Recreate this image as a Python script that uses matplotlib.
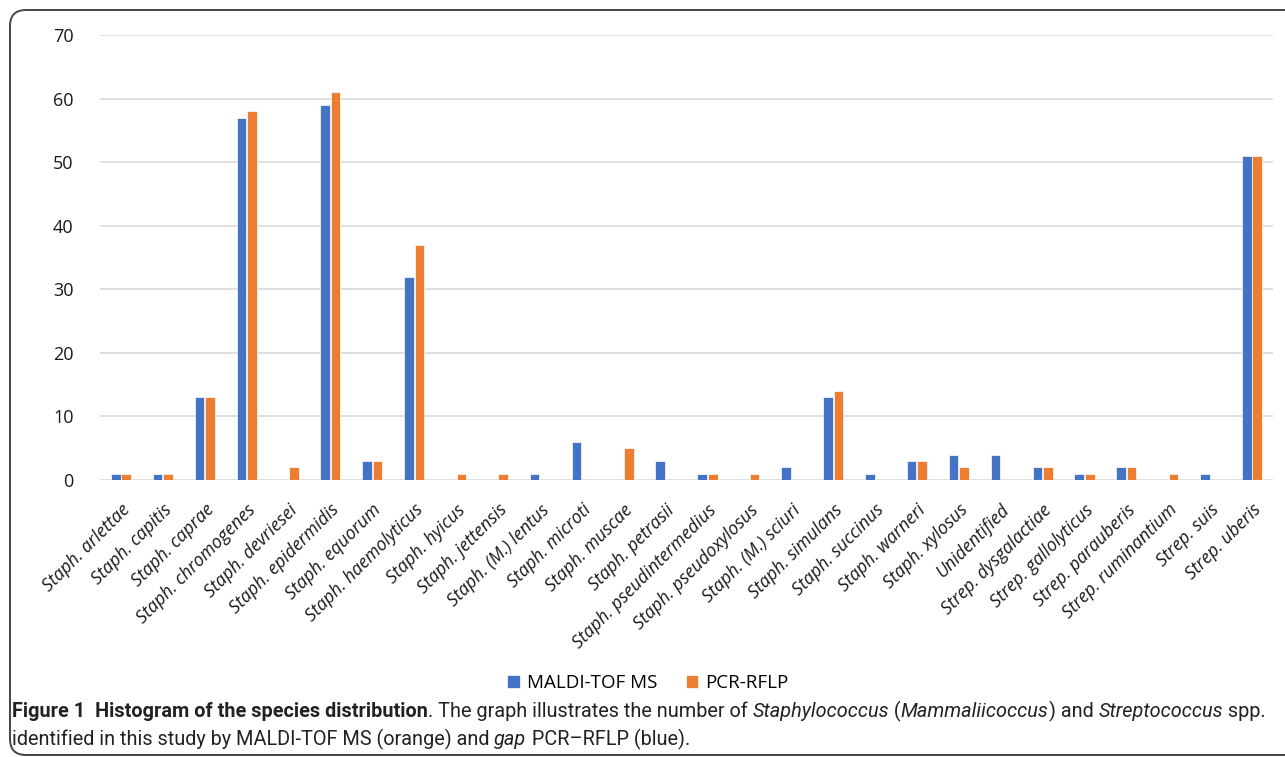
import numpy as np
import matplotlib
matplotlib.use("Agg")
import matplotlib.pyplot as plt
from matplotlib.patches import FancyBboxPatch
from matplotlib.transforms import IdentityTransform

# species on the x axis
species = ["Staph. arlettae", "Staph. capitis", "Staph. caprae", "Staph. chromogenes",
           "Staph. devriesei", "Staph. epidermidis", "Staph. equorum", "Staph. haemolyticus",
           "Staph. hyicus", "Staph. jettensis", "Staph. (M.) lentus", "Staph. microti",
           "Staph. muscae", "Staph. petrasii", "Staph. pseudintermedius", "Staph. pseudoxylosus",
           "Staph. (M.) sciuri", "Staph. simulans", "Staph. succinus", "Staph. warneri",
           "Staph. xylosus", "Unidentified", "Strep. dysgalactiae", "Strep. gallolyticus",
           "Strep. parauberis", "Strep. ruminantium", "Strep. suis", "Strep. uberis"]

maldi = [1, 1, 13, 57, 0, 59, 3, 32, 0, 0, 1, 6, 0, 3, 1, 0, 2, 13, 1, 3, 4, 4, 2, 1, 2, 0, 1, 51]
pcr = [1, 1, 13, 58, 2, 61, 3, 37, 1, 1, 0, 0, 5, 0, 1, 1, 0, 14, 0, 3, 2, 0, 2, 1, 2, 1, 0, 51]

yticks = [0, 10, 20, 30, 40, 50, 60, 70]

W, H = 1285, 757
fig = plt.figure(figsize=(W / 100, H / 100), dpi=100)
ax = fig.add_axes([100 / W, 1 - 480 / H, 1173 / W, 445 / H])

x = np.arange(len(species))
bw = 0.23
ax.bar(x - 0.125, maldi, bw, color="#4472C4", edgecolor="white", linewidth=0.5, label="MALDI-TOF MS", zorder=3)
ax.bar(x + 0.125, pcr, bw, color="#ED7D31", edgecolor="white", linewidth=0.5, label="PCR-RFLP", zorder=3)

ax.set_xlim(-0.5, len(species) - 0.5)
ax.set_ylim(0, 70)
ax.set_yticks(yticks)
ax.set_yticklabels([str(v) for v in yticks], fontsize=13, family="Open Sans", color="#1a1a1a")
ax.yaxis.grid(True, color="#D9D9D9", linewidth=1.2, zorder=0)
ax.tick_params(axis="both", length=0)
ax.tick_params(axis="y", pad=19)
ax.set_xticks(x)
ax.set_xticklabels(species, rotation=45, ha="right", rotation_mode="anchor",
                   fontsize=12.8, style="italic", family="Open Sans", color="#1a1a1a")
ax.tick_params(axis="x", pad=15)
for s in ax.spines.values():
    s.set_visible(False)

ax.legend(loc="center", bbox_to_anchor=(648 / W, 1 - 683 / H), bbox_transform=fig.transFigure,
          ncol=2, frameon=False, prop={"family": "Open Sans", "size": 13.5},
          handlelength=0.65, handleheight=0.65, handletextpad=0.4, columnspacing=1.5)

# rounded frame round the figure
box = FancyBboxPatch((10, 2), 1300, 745, boxstyle="round,pad=0,rounding_size=16",
                     transform=IdentityTransform(), fill=False, edgecolor="#444444",
                     linewidth=1.4, clip_on=False)
fig.patches.append(box)

# caption, drawn in runs so bold / italic can be mixed
renderer = fig.canvas.get_renderer()
cap_font = "Roboto"


def runs(x0, y0, parts, size):
    xp = x0
    drawn = []
    for txt, style, weight in parts:
        t = fig.text(xp, y0, txt, fontsize=size, style=style, weight=weight, family=cap_font,
                     transform=IdentityTransform(), color="#222222")
        xp += t.get_window_extent(renderer).width
        drawn.append(t)
    return drawn, xp - x0


line1 = [("Figure 1  Histogram of the species distribution", "normal", "bold"),
         (". The graph illustrates the number of ", "normal", "normal"),
         ("Staphylococcus", "italic", "normal"),
         (" (", "normal", "normal"),
         ("Mammaliicoccus", "italic", "normal"),
         (") and ", "normal", "normal"),
         ("Streptococcus", "italic", "normal"),
         (" spp.", "normal", "normal")]
line2 = [("identified in this study by MALDI-TOF MS (orange) and ", "normal", "normal"),
         ("gap", "italic", "normal"),
         (" PCR\u2013RFLP (blue).", "normal", "normal")]

# fit the first line to the width it takes in the reference
tmp, wid = runs(12, H - 717, line1, 13)
for t in tmp:
    t.remove()
size = 13 * 1250 / wid
runs(12, H - 717, line1, size)
runs(12, H - 745, line2, size)

fig.savefig("out.png", dpi=100)
